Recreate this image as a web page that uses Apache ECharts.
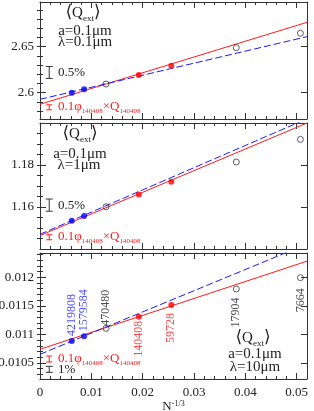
<!DOCTYPE html>
<html><head><meta charset="utf-8">
<script src="https://cdn.jsdelivr.net/npm/echarts@6/dist/echarts.min.js"></script>
<style>html,body{margin:0;padding:0;background:#fff}#c{width:314px;height:411px}</style>
</head><body><div id="c"></div>
<script>
// ---- data ----
const xN = [0.00619, 0.00859, 0.01286, 0.01924, 0.02558, 0.03823, 0.05072];
const nNames = ['4219808', '1579584', '470480', '140408', '59728', '17904', '7664'];
const pointKind = ['blue', 'blue', 'open', 'red', 'red', 'open', 'open'];
const qPanel1 = [2.6000, 2.6037, 2.6094, 2.6192, 2.6293, 2.6489, 2.6646];
const qPanel2 = [1.1535, 1.1557, 1.1601, 1.1660, 1.1720, 1.1814, 1.1922];
const qPanel3 = [0.010885, 0.010967, 0.011107, 0.011310, 0.011515, 0.011795, 0.011993];
const fitX = [0, 0.052];
const redFit1 = [2.5874, 2.6765], blueFit1 = [2.5928, 2.6609];
const redFit2 = [1.1464, 1.2000], blueFit2 = [1.1470, 1.2020];
const redFit3 = [0.010740, 0.012282], blueFit3 = [0.010652, 0.012582];
// error-bar keys: [x, centre, half-height]
const pctBar1 = [0.0018, 2.622, 0.0065], redBar1 = [0.0018, 2.5841, 0.0027];
const pctBar2 = [0.0018, 1.1609, 0.0029], redBar2 = [0.0018, 1.1456, 0.0012];
const pctBar3 = [0.0018, 0.010389, 0.0000525], redBar3 = [0.0018, 0.01057, 0.0000525];
// axes
const xRange = [0, 0.052];
const xTickLabels = [0, 0.01, 0.02, 0.03, 0.04, 0.05];
const yRange1 = [2.5714, 2.6986], yTicks1 = [2.6, 2.65];
const yRange2 = [1.14, 1.20], yTicks2 = [1.16, 1.18];
const yRange3 = [0.01022, 0.012425], yTicks3 = [0.0105, 0.011, 0.0115, 0.012];

// ---- helpers ----
const SERIF = 'Liberation Serif';
const AX = '#333';
const RED = '#ff1a1a', BLUE = '#1a1aff', INK = '#222';
function steps(a, b, s) { const o = []; for (let v = a; v <= b + s * 1e-6; v += s) o.push(+v.toFixed(7)); return o; }
const xMajor = [0.01, 0.02, 0.03, 0.04, 0.05];
const xMinor = steps(0.002, 0.052, 0.002);

function xAxes(g, withLabels) {
  const base = { gridIndex: g, type: 'value', min: xRange[0], max: xRange[1], splitLine: { show: false }, axisLine: { show: true, onZero: false, lineStyle: { color: AX, width: 1 } } };
  const major = { show: true, inside: true, length: 6, customValues: xMajor, lineStyle: { color: AX } };
  const minor = { show: true, inside: true, length: 3, customValues: xMinor, lineStyle: { color: AX } };
  const first = Object.assign({}, base, { position: 'bottom', axisTick: major, axisLabel: { show: false } });
  if (withLabels) {
    first.axisLabel = { show: true, customValues: xTickLabels, margin: 7, color: INK, fontFamily: SERIF, fontSize: 13, formatter: v => String(v) };
    first.name = '{n|N}{s|-1/3}';
    first.nameLocation = 'middle';
    first.nameGap = 17;
    first.nameTextStyle = { rich: { n: { fontFamily: SERIF, fontSize: 13, lineHeight: 13, verticalAlign: 'bottom', color: INK }, s: { fontFamily: SERIF, fontSize: 8, lineHeight: 8, padding: [0, 0, 10, 0], verticalAlign: 'top', color: INK } } };
  }
  return [first,
    Object.assign({}, base, { position: 'bottom', axisLine: { show: false }, axisTick: minor, axisLabel: { show: false } }),
    Object.assign({}, base, { position: 'top', axisTick: major, axisLabel: { show: false } }),
    Object.assign({}, base, { position: 'top', axisLine: { show: false }, axisTick: minor, axisLabel: { show: false } })];
}
function yAxes(g, range, labels, majors, minors) {
  const base = { gridIndex: g, type: 'value', min: range[0], max: range[1], splitLine: { show: false }, axisLine: { show: true, onZero: false, lineStyle: { color: AX, width: 1 } } };
  const major = { show: true, inside: true, length: 6, customValues: majors, lineStyle: { color: AX } };
  const minor = { show: true, inside: true, length: 3, customValues: minors, lineStyle: { color: AX } };
  return [
    Object.assign({}, base, { position: 'left', axisTick: major, axisLabel: { show: true, customValues: labels, margin: 6, color: INK, fontFamily: SERIF, fontSize: 13, formatter: v => String(v) } }),
    Object.assign({}, base, { position: 'left', axisLine: { show: false }, axisTick: minor, axisLabel: { show: false } }),
    Object.assign({}, base, { position: 'right', axisTick: major, axisLabel: { show: false } }),
    Object.assign({}, base, { position: 'right', axisLine: { show: false }, axisTick: minor, axisLabel: { show: false } })];
}
function errBar(g, d, color, capHalf) {
  return { type: 'custom', xAxisIndex: 4 * g, yAxisIndex: 4 * g, clip: false, silent: true, data: [d],
    renderItem: (p, api) => {
      const x = api.value(0), c = api.value(1), h = api.value(2);
      const a = api.coord([x, c + h]), b = api.coord([x, c - h]);
      const st = { stroke: color, lineWidth: 1 };
      return { type: 'group', children: [
        { type: 'line', shape: { x1: a[0], y1: a[1], x2: b[0], y2: b[1] }, style: st },
        { type: 'line', shape: { x1: a[0] - capHalf, y1: a[1], x2: a[0] + capHalf, y2: a[1] }, style: st },
        { type: 'line', shape: { x1: b[0] - capHalf, y1: b[1], x2: b[0] + capHalf, y2: b[1] }, style: st }] };
    } };
}
function panelSeries(g, q, redFit, blueFit, withNames) {
  const ax = { xAxisIndex: 4 * g, yAxisIndex: 4 * g };
  const out = [];
  out.push(Object.assign({ type: 'line', data: fitX.map((x, i) => [x, redFit[i]]), showSymbol: false, lineStyle: { color: RED, width: 1 }, silent: true, z: 2 }, ax));
  out.push(Object.assign({ type: 'line', data: fitX.map((x, i) => [x, blueFit[i]]), showSymbol: false, lineStyle: { color: BLUE, width: 1, type: [7, 3] }, silent: true, z: 2 }, ax));
  const styles = {
    blue: { itemStyle: { color: '#0000ff' }, label: BLUE, side: 'top' },
    red: { itemStyle: { color: '#ff0000' }, label: RED, side: 'bottom' },
    open: { itemStyle: { color: 'rgba(0,0,0,0)', borderColor: INK, borderWidth: 0.9 }, label: INK, side: 'bottom' }
  };
  const labelSide = ['top', 'top', 'top', 'bottom', 'bottom', 'bottom', 'bottom'];
  const labelDist = [2, 2, -1, 1, 5, 5, 7];
  ['open', 'blue', 'red'].forEach(kind => {
    const data = [];
    xN.forEach((x, i) => {
      if (pointKind[i] !== kind) return;
      const item = { value: [x, q[i]], name: nNames[i] };
      if (withNames) {
        const top = labelSide[i] === 'top';
        item.label = { show: true, formatter: '{b}', position: labelSide[i], distance: labelDist[i], rotate: 90,
          align: top ? 'left' : 'right', verticalAlign: 'middle', color: styles[kind].label, fontFamily: SERIF, fontSize: 12 };
      }
      data.push(item);
    });
    out.push(Object.assign({ type: 'scatter', data, symbol: 'circle', symbolSize: 6, itemStyle: styles[kind].itemStyle, silent: true, z: 3 }, ax));
  });
  return out;
}

// ---- annotation texts ----
const richQ = { b: { fontSize: 17, fontFamily: 'DejaVu Serif', lineHeight: 20, fill: INK }, q: { fontSize: 15, fontFamily: SERIF, lineHeight: 20, fill: INK }, s: { fontSize: 9, fontFamily: SERIF, lineHeight: 8, padding: [12, 0, 0, 0], fill: INK } };
const richRed = { m: { fontSize: 13, fontFamily: SERIF, lineHeight: 15, fill: RED }, s: { fontSize: 7, fontFamily: SERIF, lineHeight: 7, padding: [8, 0, 0, 0], fill: RED } };
function tx(x, y, text, opts) {
  return { type: 'text', x, y, silent: true, style: Object.assign({ text, align: 'center', verticalAlign: 'middle', fill: INK, fontFamily: SERIF, fontSize: 15 }, opts || {}) };
}
const qLabel = '{b|⟨}{q|Q}{s|ext}{b|⟩}';
const redLabel = '{m|0.1φ}{s|140408}{m|×Q}{s|140408}';
const graphics = [
  tx(83, 13, qLabel, { rich: richQ }),
  tx(85, 31, 'a=0.1μm'), tx(85, 42, 'λ=0.1μm'),
  tx(58, 73, '0.5%', { align: 'left', fontSize: 13 }),
  tx(58, 107, redLabel, { align: 'left', rich: richRed }),
  tx(80, 134, qLabel, { rich: richQ }),
  tx(80, 154, 'a=0.1μm'), tx(79, 165, 'λ=1μm'),
  tx(58, 206, '0.5%', { align: 'left', fontSize: 13 }),
  tx(58, 237, redLabel, { align: 'left', rich: richRed }),
  tx(253, 338, qLabel, { rich: richQ }),
  tx(255, 354, 'a=0.1μm'), tx(255, 367, 'λ=10μm'),
  tx(58, 359, redLabel, { align: 'left', rich: richRed }),
  tx(58, 370, '1%', { align: 'left', fontSize: 13 })
];

const option = {
  animation: false,
  backgroundColor: '#fff',
  grid: [
    { left: 40, width: 267, top: 2, height: 117, outerBoundsMode: 'none', containLabel: false },
    { left: 40, width: 267, top: 123, height: 126, outerBoundsMode: 'none', containLabel: false },
    { left: 40, width: 267, top: 253, height: 126, outerBoundsMode: 'none', containLabel: false }
  ],
  xAxis: [].concat(xAxes(0, false), xAxes(1, false), xAxes(2, true)),
  yAxis: [].concat(
    yAxes(0, yRange1, yTicks1, yTicks1, steps(2.58, 2.69, 0.01)),
    yAxes(1, yRange2, yTicks2, yTicks2, steps(1.145, 1.195, 0.005)),
    yAxes(2, yRange3, yTicks3, yTicks3, steps(0.0103, 0.0124, 0.0001))),
  series: [].concat(
    panelSeries(0, qPanel1, redFit1, blueFit1, false),
    panelSeries(1, qPanel2, redFit2, blueFit2, false),
    panelSeries(2, qPanel3, redFit3, blueFit3, true),
    [errBar(0, pctBar1, AX, 3.5), errBar(0, redBar1, RED, 3),
     errBar(1, pctBar2, AX, 3.5), errBar(1, redBar2, RED, 3),
     errBar(2, pctBar3, AX, 3.5), errBar(2, redBar3, RED, 3)]),
  graphic: graphics
};
const chart = echarts.init(document.getElementById('c'), null, { renderer: 'canvas' });
chart.setOption(option);
</script></body></html>
